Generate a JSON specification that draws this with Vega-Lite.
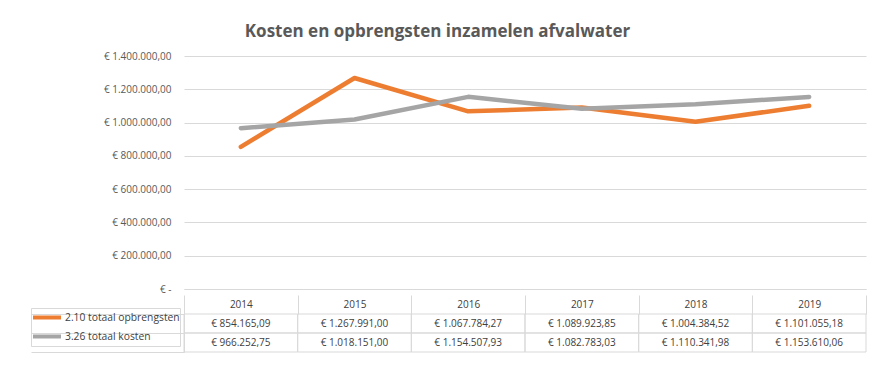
{
  "$schema": "https://vega.github.io/schema/vega-lite/v6.json",
  "padding": {"left": 30, "top": 23, "right": 5, "bottom": 5},
  "config": {
    "locale": {"number": {"decimal": ",", "thousands": ".", "grouping": [3], "currency": ["€ ", ""]}},
    "font": "Open Sans",
    "view": {"stroke": null},
    "concat": {"spacing": 0}
  },
  "title": {"text": "Kosten en opbrengsten inzamelen afvalwater", "fontSize": 17, "fontWeight": "bold", "color": "#595959", "font": "Open Sans", "anchor": "middle", "offset": 10, "dx": -11},
  "datasets": {
    "d": [
      {"year": "2014", "series": "2.10 totaal opbrengsten", "value": 854165.09},
      {"year": "2015", "series": "2.10 totaal opbrengsten", "value": 1267991.00},
      {"year": "2016", "series": "2.10 totaal opbrengsten", "value": 1067784.27},
      {"year": "2017", "series": "2.10 totaal opbrengsten", "value": 1089923.85},
      {"year": "2018", "series": "2.10 totaal opbrengsten", "value": 1004384.52},
      {"year": "2019", "series": "2.10 totaal opbrengsten", "value": 1101055.18},
      {"year": "2014", "series": "3.26 totaal kosten", "value": 966252.75},
      {"year": "2015", "series": "3.26 totaal kosten", "value": 1018151.00},
      {"year": "2016", "series": "3.26 totaal kosten", "value": 1154507.93},
      {"year": "2017", "series": "3.26 totaal kosten", "value": 1082783.03},
      {"year": "2018", "series": "3.26 totaal kosten", "value": 1110341.98},
      {"year": "2019", "series": "3.26 totaal kosten", "value": 1153610.06}
    ]
  },
  "vconcat": [
    {
      "width": 682,
      "height": 233,
      "data": {"name": "d"},
      "mark": {"type": "line", "strokeWidth": 4.5, "strokeCap": "round", "strokeJoin": "round"},
      "encoding": {
        "x": {"field": "year", "type": "ordinal", "scale": {"type": "point", "padding": 0.5},
              "axis": {"title": null, "labels": false, "ticks": false, "grid": false, "domainColor": "#d9d9d9"}},
        "y": {"field": "value", "type": "quantitative", "scale": {"domain": [0, 1400000]},
              "axis": {"title": null, "values": [0, 200000, 400000, 600000, 800000, 1000000, 1200000, 1400000],
                       "format": "$,.2f", "labelExpr": "datum.value == 0 ? '€ -' : datum.label",
                       "domain": false, "ticks": false, "gridColor": "#d9d9d9", "labelColor": "#595959",
                       "labelFontSize": 10, "labelPadding": 13}},
        "color": {"field": "series", "type": "nominal",
                  "scale": {"domain": ["2.10 totaal opbrengsten", "3.26 totaal kosten"], "range": ["#ED7D31", "#A5A5A5"]},
                  "legend": {"orient": "none", "legendX": -153, "legendY": 252, "title": null,
                             "symbolType": "stroke", "symbolSize": 784, "symbolStrokeWidth": 4,
                             "clipHeight": 19, "rowPadding": 0, "padding": 0, "labelOffset": 2,
                             "labelFontSize": 10.3, "labelColor": "#404040", "strokeColor": "#d9d9d9"}}
      }
    },
    {
      "width": 682,
      "height": 38,
      "data": {"name": "d"},
      "encoding": {
        "x": {"field": "year", "type": "ordinal", "scale": {"type": "band", "paddingInner": 0, "paddingOuter": 0},
              "axis": {"orient": "top", "title": null, "labelAngle": 0, "tickBand": "extent", "tickSize": 19,
                       "tickColor": "#d9d9d9", "domain": false, "labelBaseline": "middle", "labelPadding": -9.5,
                       "labelFontSize": 10, "labelColor": "#404040"}},
        "y": {"field": "series", "type": "nominal", "scale": {"type": "band", "paddingInner": 0, "paddingOuter": 0},
              "axis": {"title": null, "labels": false, "tickBand": "extent", "tickSize": 153,
                       "tickColor": "#d9d9d9", "domainColor": "#d9d9d9"}}
      },
      "layer": [
        {"mark": {"type": "rect", "fill": null, "stroke": "#d9d9d9", "strokeWidth": 1}},
        {"mark": {"type": "text", "fontSize": 10, "color": "#404040"},
         "encoding": {"text": {"field": "value", "type": "quantitative", "format": "$,.2f"}}}
      ]
    }
  ]
}
